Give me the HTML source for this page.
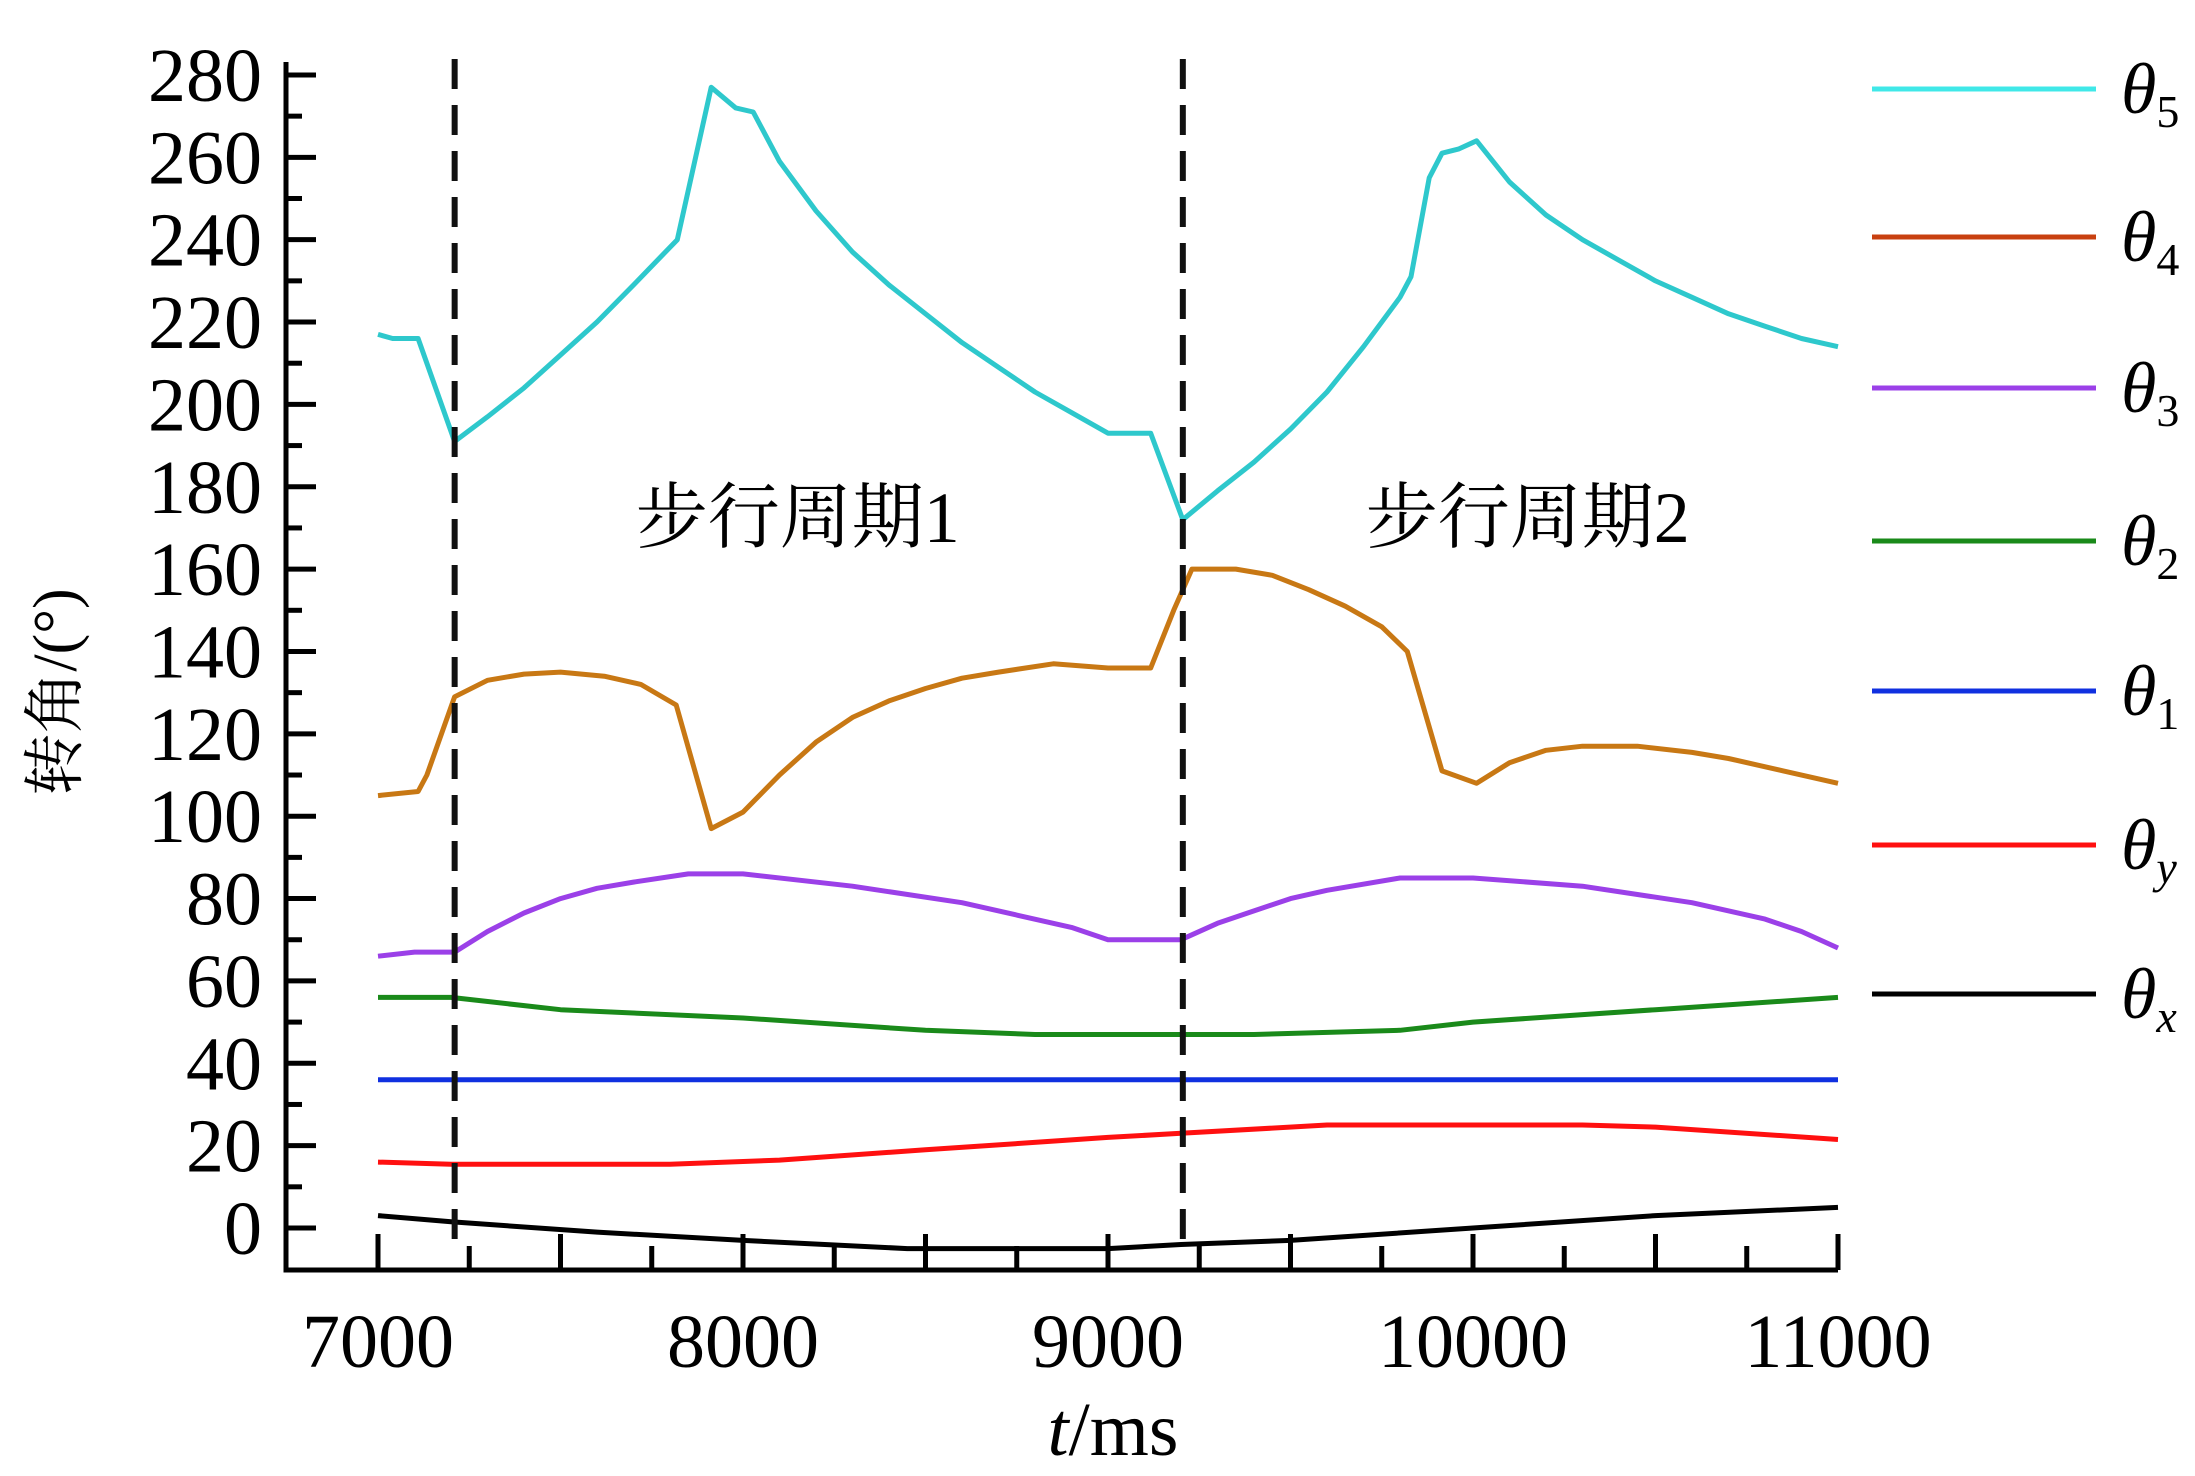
<!DOCTYPE html>
<html><head><meta charset="utf-8"><style>
html,body{margin:0;padding:0;background:#fff;}
svg{display:block;}
text{font-family:"Liberation Serif","Noto Serif CJK SC",serif;fill:#000;}
</style></head><body>
<svg id="chart" width="2195" height="1476" viewBox="0 0 2195 1476" xmlns="http://www.w3.org/2000/svg"></svg>
<script>
const seriesNames=['θ5','θ4','θ3','θ2','θ1','θy','θx'];
const seriesColors=['#2ec8cc','#c87814','#9b40e8','#1a8a1a','#1030e0','#ff1010','#000000'];
const legendColors=['#40e8e8','#c84010','#9b40e8','#1a8a1a','#1030e0','#ff1010','#000000'];
const t5=[7000,7040,7110,7210,7300,7400,7500,7600,7700,7820,7913,7980,8028,8100,8200,8300,8400,8500,8600,8700,8800,8900,9000,9117,9205,9300,9400,9500,9600,9700,9800,9830,9880,9915,9960,10010,10100,10200,10300,10400,10500,10600,10700,10800,10900,11000];
const v5=[217,216,216,191,197,204,212,220,229,240,277,272,271,259,247,237,229,222,215,209,203,198,193,193,172,179,186,194,203,214,226,231,255,261,262,264,254,246,240,235,230,226,222,219,216,214];
const t4=[7000,7110,7134,7210,7300,7400,7500,7620,7720,7817,7913,8000,8100,8200,8300,8400,8500,8600,8700,8850,9000,9117,9180,9230,9350,9450,9550,9650,9750,9820,9915,10010,10100,10200,10300,10450,10600,10700,10850,11000];
const v4=[105,106,110,129,133,134.5,135,134,132,127,97,101,110,118,124,128,131,133.5,135,137,136,136,150,160,160,158.5,155,151,146,140,111,108,113,116,117,117,115.5,114,111,108];
const t3=[7000,7100,7210,7300,7400,7500,7600,7700,7850,8000,8300,8600,8900,9000,9200,9300,9400,9500,9600,9800,10000,10300,10600,10800,10900,11000];
const v3=[66,67,67,72,76.5,80,82.5,84,86,86,83,79,73,70,70,74,77,80,82,85,85,83,79,75,72,68];
const t2=[7000,7200,7500,8000,8500,8800,9400,9800,10000,10500,11000];
const v2=[56,56,53,51,48,47,47,48,50,53,56];
const t1=[7000,11000];
const v1=[36,36];
const ty=[7000,7200,7800,8100,8500,9000,9200,9600,10300,10500,11000];
const vy=[16,15.5,15.5,16.5,19,22,23,25,25,24.5,21.5];
const tx=[7000,7200,7600,8000,8450,9000,9200,9500,10000,10500,11000];
const vx=[3,1.5,-1,-3,-5,-5,-4,-3,0,3,5];
const yTicks=[0,20,40,60,80,100,120,140,160,180,200,220,240,260,280];
const xTicks=[7000,8000,9000,10000,11000];
const cycleMarks=[7210,9205];
const cycleLabels=['步行周期1','步行周期2'];
const cycleLabelX=[8150,10150];

const NS='http://www.w3.org/2000/svg';
const svg=document.getElementById('chart');
const AXY=1270;
function X(t){return 378+(t-7000)*0.365;}
function Y(v){return 1228-v*4.118;}
function el(tag,attrs,parent){const e=document.createElementNS(NS,tag);for(const k in attrs)e.setAttribute(k,attrs[k]);(parent||svg).appendChild(e);return e;}

let a=el('path',{d:`M286,62 V${AXY} H${X(11000)}`,fill:'none',stroke:'#000','stroke-width':5});


for(let v=0;v<=280;v+=10){
  const major=v%20===0;
  const tk=el('line',{x1:286,x2:major?316:302,y1:Y(v),y2:Y(v),stroke:'#000','stroke-width':5});
  
  
}
yTicks.forEach(v=>{
  const t=el('text',{x:262,y:Y(v)+26,'text-anchor':'end','font-size':76});
  t.textContent=v;
  
  
});
for(let t=7000;t<=11000;t+=250){
  const major=t%500===0;
  const tk=el('line',{x1:X(t),x2:X(t),y1:AXY,y2:major?AXY-36:AXY-24,stroke:'#000','stroke-width':5});
  
  
}
xTicks.forEach(v=>{
  const t=el('text',{x:X(v),y:1367,'text-anchor':'middle','font-size':76});
  t.textContent=v;
  
  
});
let yt=el('text',{x:0,y:0,transform:'translate(76,692) rotate(-90)','text-anchor':'middle','font-size':62});
yt.textContent='转角/(°)';


let xt=el('text',{x:1113,y:1455,'text-anchor':'middle','font-size':76});
xt.innerHTML='<tspan font-style="italic">t</tspan>/ms';



const allT=[t5,t4,t3,t2,t1,ty,tx],allV=[v5,v4,v3,v2,v1,vy,vx];
allT.forEach((ts,i)=>{
  const d=ts.map((t,j)=>(j?'L':'M')+X(t).toFixed(1)+','+Y(allV[i][j]).toFixed(1)).join(' ');
  const p=el('path',{d:d,fill:'none',stroke:seriesColors[i],'stroke-width':5,'stroke-linejoin':'round'});
  
  
});
cycleMarks.forEach((t,i)=>{
  const l=el('line',{x1:X(t),x2:X(t),y1:59,y2:1250,stroke:'#111','stroke-width':6,'stroke-dasharray':'30,16'});
  
  
});
cycleLabels.forEach((s,i)=>{
  const t=el('text',{x:X(cycleLabelX[i]),y:542,'text-anchor':'middle','font-size':72});
  t.textContent=s;
  
  
});
const legY=[89,237,388,541,691,845,994];
const subs=['5','4','3','2','1','y','x'];
seriesNames.forEach((n,i)=>{
  const g=el('g',{});
  
  
  el('line',{x1:1872,x2:2096,y1:legY[i],y2:legY[i],stroke:legendColors[i],'stroke-width':5},g);
  const t=el('text',{x:2121,y:legY[i]+24,'font-size':72,'font-style':'italic'},g);
  const subItalic=(subs[i]==='x'||subs[i]==='y')?'italic':'normal';
  t.innerHTML='θ<tspan font-size="46" dy="14" font-style="'+subItalic+'">'+subs[i]+'</tspan>';
});
</script>
</body></html>
